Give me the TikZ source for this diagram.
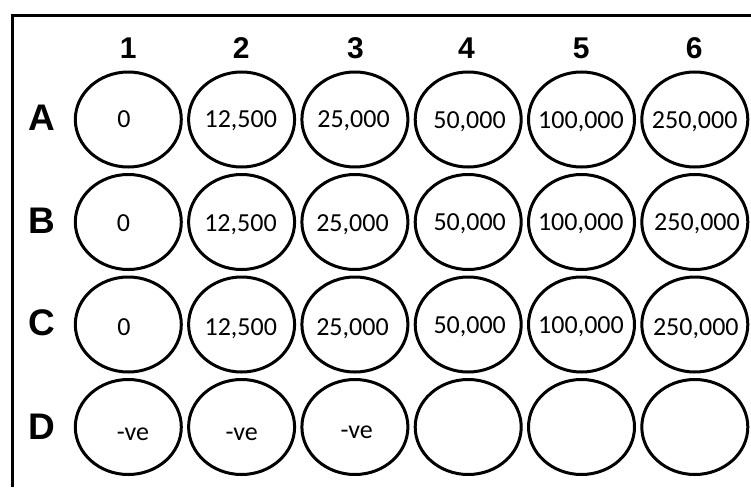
\documentclass[tikz,border=0pt]{standalone}
\usepackage{fontspec}
\newfontfamily\wellfont{Carlito}
\newfontfamily\hdfont{Liberation Sans}
\usetikzlibrary{shapes.geometric}
\tikzset{
  well/.style={draw=black, line width=3pt, ellipse, minimum width=106pt, minimum height=95pt, inner sep=0pt},
  welltext/.style={anchor=base, inner sep=0pt, font=\wellfont\fontsize{26}{26}\selectfont},
  colhead/.style={anchor=base, inner sep=0pt, font=\hdfont\bfseries\fontsize{30}{30}\selectfont},
  rowhead/.style={anchor=base, inner sep=0pt, font=\hdfont\bfseries\fontsize{37}{37}\selectfont},
}
\begin{document}
\begin{tikzpicture}[x=1pt, y=-1pt]
\useasboundingbox (0,0) rectangle (751,487);
\fill[white] (0,0) rectangle (751,487);
% frame
\coordinate (fr) at (751,15.8);
\coordinate (fc) at (12.5,15.8);
\coordinate (fb) at (12.5,487);
\draw[line width=3pt] (fr) -- (fc) -- (fb);
% column headers
\foreach \c/\x in {1/128.3, 2/241.3, 3/355.5, 4/466.5, 5/581.2, 6/694.2} {
  \node[colhead] (col\c) at (\x,58) {\c};
}
% row headers
\node[rowhead] (rowA) at (42,130.5) {A};
\node[rowhead] (rowB) at (42,233) {B};
\node[rowhead] (rowC) at (42,335.5) {C};
\node[rowhead] (rowD) at (42,439) {D};
% wells
\foreach \r/\y in {A/119.5, B/222, C/324.5, D/427} {
  \foreach \c/\x in {1/128.3, 2/241.6, 3/354.9, 4/468.2, 5/581.5, 6/694.8} {
    \node[well] (w\r\c) at (\x,\y) {};
  }
}
% well labels
\node[welltext] (tA1) at (124,127.5) {0};
\node[welltext] (tA2) at (240.8,127.5) {12,500};
\node[welltext] (tA3) at (353.5,127.5) {25,000};
\node[welltext] (tA4) at (469.5,128) {50,000};
\node[welltext] (tA5) at (581,128) {100,000};
\node[welltext] (tA6) at (694.7,128) {250,000};
\node[welltext] (tB1) at (123.5,231) {0};
\node[welltext] (tB2) at (240.5,231) {12,500};
\node[welltext] (tB3) at (352.5,231) {25,000};
\node[welltext] (tB4) at (469.7,230.7) {50,000};
\node[welltext] (tB5) at (580.8,230.7) {100,000};
\node[welltext] (tB6) at (697,230.7) {250,000};
\node[welltext] (tC1) at (124,335) {0};
\node[welltext] (tC2) at (240.8,335) {12,500};
\node[welltext] (tC3) at (352.5,335) {25,000};
\node[welltext] (tC4) at (469.7,333.3) {50,000};
\node[welltext] (tC5) at (581,333.3) {100,000};
\node[welltext] (tC6) at (695.8,335) {250,000};
\node[welltext] (tD1) at (133,440) {-ve};
\node[welltext] (tD2) at (241.7,440) {-ve};
\node[welltext] (tD3) at (356.7,438) {-ve};
\end{tikzpicture}
\end{document}
